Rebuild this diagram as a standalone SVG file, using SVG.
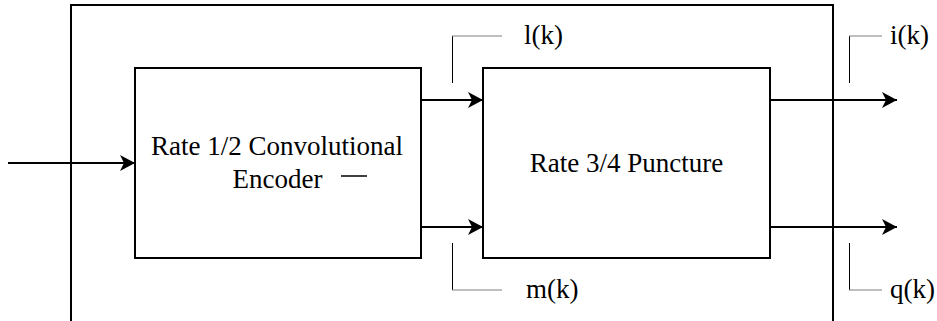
<svg xmlns="http://www.w3.org/2000/svg" width="937" height="321" viewBox="0 0 937 321">
<style>
.box{fill:#fff;stroke:#000;stroke-width:2}
.wire{fill:none;stroke:#000;stroke-width:2}
.frame{fill:none;stroke:#000;stroke-width:2}
.call{fill:none;stroke:#000;stroke-width:1}
.callh{fill:none;stroke:#808080;stroke-width:1.2}
.t{font-family:'Liberation Serif','Times New Roman',Tinos,'DejaVu Serif',serif;font-size:27px;fill:#000}
</style>
<defs>
<marker id="ah" markerUnits="userSpaceOnUse" markerWidth="16" markerHeight="16" refX="15" refY="8" orient="auto">
<path d="M0,0 L15,8 L0,16 L4,8 Z" fill="#000"/>
</marker>
</defs>
<rect width="937" height="321" fill="#fff"/>
<g id="frame">
<path class="frame" d="M71,321 V5 H833 V321"/>
</g>
<g id="encoder">
<rect class="box" x="135" y="68" width="286" height="190"/>
<text class="t" x="277" y="155" text-anchor="middle">Rate 1/2 Convolutional</text>
<text class="t" x="277.5" y="188" text-anchor="middle">Encoder</text>
<line x1="341" y1="176" x2="367" y2="176" stroke="#000" stroke-width="1.5"/>
</g>
<g id="puncture">
<rect class="box" x="483" y="68" width="287" height="190"/>
<text class="t" x="626.5" y="172" text-anchor="middle">Rate 3/4 Puncture</text>
</g>
<g id="connectors">
<line class="wire" x1="8" y1="163" x2="135" y2="163" marker-end="url(#ah)"/>
<line class="wire" x1="421" y1="100" x2="483" y2="100" marker-end="url(#ah)"/>
<line class="wire" x1="421" y1="227" x2="483" y2="227" marker-end="url(#ah)"/>
<line class="wire" x1="770" y1="100" x2="897" y2="100" marker-end="url(#ah)"/>
<line class="wire" x1="770" y1="227" x2="897" y2="227" marker-end="url(#ah)"/>
</g>
<g id="label-l">
<line class="call" x1="452.5" y1="36" x2="452.5" y2="83"/>
<line class="callh" x1="452" y1="36" x2="502" y2="36"/>
<text class="t" x="524" y="44">l(k)</text>
</g>
<g id="label-m">
<line class="call" x1="452.5" y1="243" x2="452.5" y2="290"/>
<line class="callh" x1="452" y1="290" x2="502" y2="290"/>
<text class="t" x="526" y="298">m(k)</text>
</g>
<g id="label-i">
<line class="call" x1="849.5" y1="36" x2="849.5" y2="83"/>
<line class="callh" x1="849" y1="36" x2="882" y2="36"/>
<text class="t" x="890" y="44">i(k)</text>
</g>
<g id="label-q">
<line class="call" x1="849.5" y1="243" x2="849.5" y2="290"/>
<line class="callh" x1="849" y1="290" x2="882" y2="290"/>
<text class="t" x="890" y="298">q(k)</text>
</g>
</svg>
